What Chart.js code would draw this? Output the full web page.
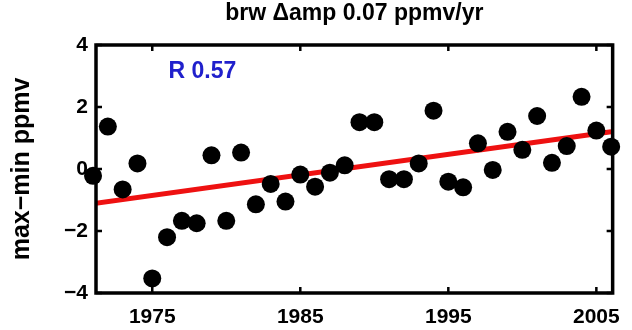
<!DOCTYPE html>
<html>
<head>
<meta charset="utf-8">
<script src="https://cdn.jsdelivr.net/npm/chart.js@4.4.0/dist/chart.umd.min.js"></script>
<style>
  html, body { margin: 0; padding: 0; background: #ffffff; }
  #wrap { width: 632px; height: 330px; }
</style>
</head>
<body>
<div id="wrap"><canvas id="c" width="632" height="330"></canvas></div>
<script>
// Barrow seasonal amplitude anomaly (max - min), one value per year
const years = [1971, 1972, 1973, 1974, 1975, 1976, 1977, 1978, 1979, 1980,
               1981, 1982, 1983, 1984, 1985, 1986, 1987, 1988, 1989, 1990,
               1991, 1992, 1993, 1994, 1995, 1996, 1997, 1998, 1999, 2000,
               2001, 2002, 2003, 2004, 2005, 2006];
const amplitude = [-0.22, 1.37, -0.66, 0.18, -3.53, -2.20, -1.67, -1.75, 0.44, -1.67,
                   0.53, -1.14, -0.48, -1.05, -0.18, -0.57, -0.12, 0.12, 1.51, 1.51,
                   -0.33, -0.33, 0.18, 1.88, -0.41, -0.59, 0.83, -0.03, 1.20, 0.62,
                   1.71, 0.20, 0.74, 2.33, 1.24, 0.72];

// Linear trend end points
const trendYears = [1971, 2006];
const trendValues = [-1.12, 1.20];

// Axis ticks
const xTickValues = [1975, 1985, 1995, 2005];
const yTickValues = [-4, -2, 0, 2, 4];

const titleText = 'brw \u0394amp 0.07 ppmv/yr';
const yAxisTitle = 'max\u2212min ppmv';
const corrLabel = 'R 0.57';

const FONT = '"Liberation Sans", Arial, Helvetica, sans-serif';

const points = years.map((y, i) => ({ x: y, y: amplitude[i] }));
const trend = trendYears.map((y, i) => ({ x: y, y: trendValues[i] }));

// Boxed axes with inward ticks on all four sides, plus title and R label
const framePlugin = {
  id: 'frame',
  afterDatasetsDraw(chart) {
    const { ctx, chartArea: a, scales } = chart;
    const xs = scales.x, ys = scales.y;
    ctx.save();
    ctx.strokeStyle = '#000';
    ctx.lineWidth = 2.5;
    const tl = 6;
    ctx.beginPath();
    xTickValues.forEach(v => {
      const px = xs.getPixelForValue(v);
      ctx.moveTo(px, a.bottom); ctx.lineTo(px, a.bottom - tl);
      ctx.moveTo(px, a.top); ctx.lineTo(px, a.top + tl);
    });
    yTickValues.forEach(v => {
      const py = ys.getPixelForValue(v);
      ctx.moveTo(a.left, py); ctx.lineTo(a.left + tl, py);
      ctx.moveTo(a.right, py); ctx.lineTo(a.right - tl, py);
    });
    ctx.stroke();
    ctx.lineWidth = 3.5;
    ctx.strokeRect(a.left, a.top, a.right - a.left, a.bottom - a.top);

    // correlation label
    ctx.fillStyle = '#2020cc';
    ctx.font = 'bold 23px ' + FONT;
    ctx.textAlign = 'left';
    ctx.textBaseline = 'middle';
    ctx.fillText(corrLabel, xs.getPixelForValue(1976.1), ys.getPixelForValue(3.15));

    // title centred over the axes
    ctx.fillStyle = '#000';
    ctx.font = 'bold 23px ' + FONT;
    ctx.textAlign = 'center';
    ctx.textBaseline = 'alphabetic';
    ctx.fillText(titleText, (a.left + a.right) / 2, 20);
    ctx.restore();
  }
};

new Chart(document.getElementById('c'), {
  type: 'scatter',
  data: {
    datasets: [
      {
        data: points,
        backgroundColor: '#000',
        borderWidth: 0,
        pointRadius: 9,
        pointHoverRadius: 9,
        clip: false
      },
      {
        type: 'line',
        data: trend,
        borderColor: '#ee1111',
        borderWidth: 5,
        pointRadius: 0,
        fill: false,
        tension: 0
      }
    ]
  },
  options: {
    responsive: false,
    devicePixelRatio: 1,
    animation: false,
    layout: { padding: { top: 45, right: 9, left: 0, bottom: 0 } },
    plugins: {
      legend: { display: false },
      tooltip: { enabled: false },
      title: { display: false }
    },
    scales: {
      x: {
        type: 'linear',
        min: 1971.2,
        max: 2006.1,
        afterBuildTicks: s => { s.ticks = xTickValues.map(v => ({ value: v })); },
        afterFit: s => { s.height = 37; },
        grid: { display: false, drawTicks: false },
        border: { display: false },
        ticks: {
          color: '#000',
          padding: 12,
          maxRotation: 0,
          autoSkip: false,
          font: { family: FONT, size: 21, weight: 'bold' },
          callback: v => String(v)
        }
      },
      y: {
        type: 'linear',
        min: -4,
        max: 4,
        afterBuildTicks: s => { s.ticks = yTickValues.map(v => ({ value: v })); },
        afterFit: s => { s.width = 96; },
        grid: { display: false, drawTicks: false },
        border: { display: false },
        ticks: {
          color: '#000',
          padding: 8,
          font: { family: FONT, size: 21, weight: 'bold' },
          callback: v => String(v).replace('-', '\u2212')
        },
        title: {
          display: true,
          text: yAxisTitle,
          color: '#000',
          font: { family: FONT, size: 25, weight: 'bold' },
          padding: { top: 7, bottom: 0 }
        }
      }
    }
  },
  plugins: [framePlugin]
});
</script>
</body>
</html>
